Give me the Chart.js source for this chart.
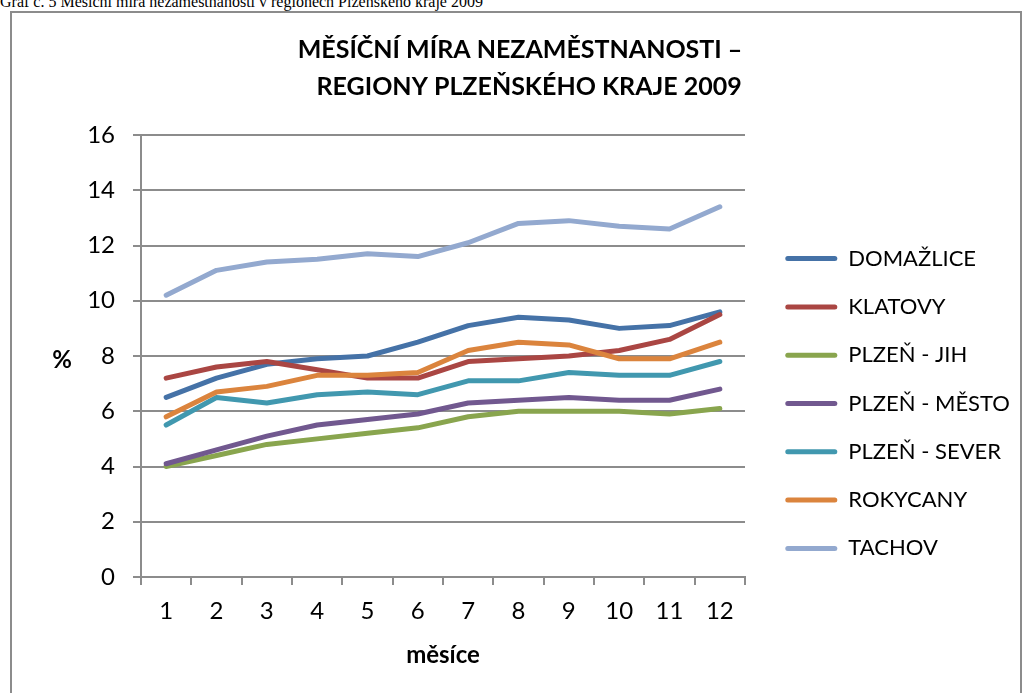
<!DOCTYPE html>
<html lang="cs">
<head>
<meta charset="utf-8">
<title>Měsíční míra nezaměstnanosti – regiony Plzeňského kraje 2009</title>
<script src="https://cdn.jsdelivr.net/npm/chart.js@4.4.0/dist/chart.umd.min.js"></script>
<style>
    body { margin: 0; background: #fff; width: 1027px; height: 693px; overflow: hidden; position: relative; }
    #caption { position: absolute; left: 0; top: -6px; font: 16px "Liberation Serif", "Times New Roman", serif; line-height: 16px; white-space: nowrap; }
    #frame { position: absolute; left: 10px; top: 11px; width: 1008px; height: 720px; border: 2px solid #8c8c8c; }
    #myChart { position: absolute; left: 0; top: 0; }
</style>
</head>
<body>
<div id="caption">Graf č. 5 Měsíční míra nezaměstnanosti v regionech Plzeňského kraje 2009</div>
<div id="frame"></div>
<canvas id="myChart" width="1027" height="693"></canvas>
<script>
// mesice a nazvy regionu
const months = ['1', '2', '3', '4', '5', '6', '7', '8', '9', '10', '11', '12'];
const regions = ['DOMAŽLICE', 'KLATOVY', 'PLZEŇ - JIH', 'PLZEŇ - MĚSTO', 'PLZEŇ - SEVER', 'ROKYCANY', 'TACHOV'];
const yTicks = [0, 2, 4, 6, 8, 10, 12, 14, 16];

// mira nezamestnanosti v %
const domazlice = [6.5, 7.2, 7.7, 7.9, 8.0, 8.5, 9.1, 9.4, 9.3, 9.0, 9.1, 9.6];
const klatovy = [7.2, 7.6, 7.8, 7.5, 7.2, 7.2, 7.8, 7.9, 8.0, 8.2, 8.6, 9.5];
const plzenJih = [4.0, 4.4, 4.8, 5.0, 5.2, 5.4, 5.8, 6.0, 6.0, 6.0, 5.9, 6.1];
const plzenMesto = [4.1, 4.6, 5.1, 5.5, 5.7, 5.9, 6.3, 6.4, 6.5, 6.4, 6.4, 6.8];
const plzenSever = [5.5, 6.5, 6.3, 6.6, 6.7, 6.6, 7.1, 7.1, 7.4, 7.3, 7.3, 7.8];
const rokycany = [5.8, 6.7, 6.9, 7.3, 7.3, 7.4, 8.2, 8.5, 8.4, 7.9, 7.9, 8.5];
const tachov = [10.2, 11.1, 11.4, 11.5, 11.7, 11.6, 12.1, 12.8, 12.9, 12.7, 12.6, 13.4];

const series = [domazlice, klatovy, plzenJih, plzenMesto, plzenSever, rokycany, tachov];
const colors = ['#4572a7', '#aa4643', '#89a54e', '#71588f', '#4198af', '#db843d', '#93a9cf'];

const gridColor = '#8c8c8c';
const font = 'Lato, "Noto Sans", sans-serif';

// posun legendy, aby sedela jako v Excelu
const legendShift = {
    id: 'legendShift',
    afterLayout(chart) {
        const lg = chart.legend;
        lg.top += 57; lg.bottom += 57;
        lg.left += 14; lg.right += 14;
    }
};

// znak % u osy y (nerotovany)
const percentLabel = {
    id: 'percentLabel',
    afterDraw(chart) {
        const {ctx, chartArea} = chart;
        ctx.save();
        ctx.font = 'bold 24px ' + font;
        ctx.fillStyle = '#000';
        ctx.textAlign = 'center';
        ctx.textBaseline = 'middle';
        ctx.fillText('%', chartArea.left - 79, (chartArea.top + chartArea.bottom) / 2 + 4);
        ctx.restore();
    }
};

const datasets = series.map((values, i) => ({
    label: regions[i],
    data: values,
    borderColor: colors[i],
    backgroundColor: colors[i],
    borderWidth: 5,
    borderCapStyle: 'round',
    borderJoinStyle: 'round',
    pointRadius: 0,
    pointHoverRadius: 0,
    tension: 0,
    fill: false,
    order: series.length - i
}));

const ctx = document.getElementById('myChart').getContext('2d');
const myChart = new Chart(ctx, {
    type: 'line',
    data: { labels: months, datasets: datasets },
    plugins: [legendShift, percentLabel],
    options: {
        responsive: false,
        animation: false,
        layout: { padding: { left: 40, right: 27, top: 0, bottom: 0 } },
        plugins: {
            tooltip: { enabled: false },
            title: {
                display: true,
                text: ['MĚSÍČNÍ MÍRA NEZAMĚSTNANOSTI –', '\u00a0\u00a0\u00a0REGIONY PLZEŇSKÉHO KRAJE 2009'],
                color: '#000',
                font: { family: font, size: 25, weight: 'bold', lineHeight: 1.5 },
                padding: { top: 31, bottom: 29 }
            },
            legend: {
                position: 'right',
                align: 'center',
                maxWidth: 255,
                labels: {
                    boxWidth: 52,
                    boxHeight: 5,
                    padding: 26.3,
                    color: '#000',
                    useBorderRadius: true,
                    font: { family: font, size: 22 },
                    sort: (a, b) => a.datasetIndex - b.datasetIndex,
                    generateLabels(chart) {
                        const items = Chart.defaults.plugins.legend.labels.generateLabels(chart);
                        items.forEach(it => {
                            it.fillStyle = it.strokeStyle;
                            it.lineWidth = 0;
                            it.borderRadius = 2.5;
                        });
                        return items;
                    }
                }
            }
        },
        scales: {
            x: {
                offset: true,
                grid: { drawOnChartArea: false, offset: true, tickLength: 8, color: gridColor, lineWidth: 2 },
                border: { color: gridColor, width: 2 },
                ticks: { color: '#000', padding: 12.3, font: { family: font, size: 24 } },
                title: {
                    display: true,
                    text: 'měsíce',
                    color: '#000',
                    font: { family: font, size: 24, weight: 'bold' },
                    padding: { top: 2.2, bottom: 23.6 }
                }
            },
            y: {
                min: 0,
                max: 16,
                afterFit(scale) { scale.width = 101; },
                afterBuildTicks(scale) { scale.ticks = yTicks.map(v => ({ value: v })); },
                grid: { color: gridColor, lineWidth: 2, tickLength: 8 },
                border: { color: gridColor, width: 2 },
                ticks: { color: '#000', padding: 18, font: { family: font, size: 24 } }
            }
        }
    }
});
</script>
</body>
</html>
